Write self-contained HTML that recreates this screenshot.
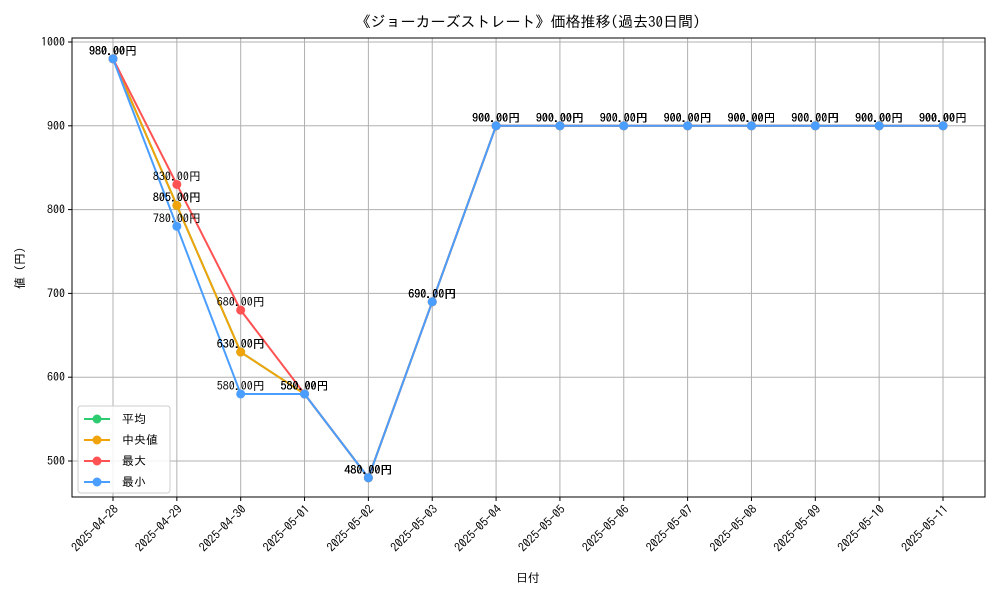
<!DOCTYPE html>
<html><head><meta charset="utf-8"><style>
body{margin:0;background:#fff;}
svg{font-family:"IPAGothic","Noto Sans CJK JP",sans-serif;}
</style></head><body>
<svg id="chart" width="1000" height="600" xmlns="http://www.w3.org/2000/svg">
<rect width="1000" height="600" fill="#fff"/>
<text x="528" y="27" text-anchor="middle" font-size="15" fill="#000">《ジョーカーズストレート》価格推移(過去30日間)</text>
<g id="grid"></g>
<g id="series"></g>
<g id="labels"></g>
<rect x="72" y="38" width="913" height="459" fill="none" stroke="#000" stroke-width="1"/>
<g id="axes"></g>
<text x="528" y="582" text-anchor="middle" font-size="12">日付</text>
<text x="0" y="0" transform="translate(24,268) rotate(-90)" text-anchor="middle" font-size="12">値 (円)</text>
<g id="legend"></g>
</svg>
<script>
const dates=["2025-04-28","2025-04-29","2025-04-30","2025-05-01","2025-05-02","2025-05-03","2025-05-04","2025-05-05","2025-05-06","2025-05-07","2025-05-08","2025-05-09","2025-05-10","2025-05-11"];
const avgValues=[980,805,630,580,480,690,900,900,900,900,900,900,900,900];
const medianValues=[980,805,630,580,480,690,900,900,900,900,900,900,900,900];
const maxValues=[980,830,680,580,480,690,900,900,900,900,900,900,900,900];
const minValues=[980,780,580,580,480,690,900,900,900,900,900,900,900,900];
const yTicks=[500,600,700,800,900,1000];
const seriesNames=["平均","中央値","最大","最小"];
const NS="http://www.w3.org/2000/svg";
const xS=i=>113+i*(943-113)/(dates.length-1);
const yS=v=>42+(1000-v)*0.838;
function mk(tag,attrs,parent){const e=document.createElementNS(NS,tag);for(const k in attrs)e.setAttribute(k,attrs[k]);parent.appendChild(e);return e;}
const grid=document.getElementById('grid'),axes=document.getElementById('axes');
yTicks.forEach(t=>{
 const l=mk('line',{x1:72,x2:985,y1:yS(t),y2:yS(t),stroke:'#b0b0b0','stroke-width':1},grid);
 
 
 mk('line',{x1:68,x2:72,y1:yS(t),y2:yS(t),stroke:'#000'},axes);
 const tx=mk('text',{x:65,y:yS(t)+4,'text-anchor':'end','font-size':12},axes);tx.textContent=t;
 
 
});
dates.forEach((d,i)=>{
 const l=mk('line',{x1:xS(i),x2:xS(i),y1:38,y2:497,stroke:'#b0b0b0','stroke-width':1},grid);
 
 
 mk('line',{x1:xS(i),x2:xS(i),y1:497,y2:501,stroke:'#000'},axes);
 const tx=mk('text',{x:0,y:0,'text-anchor':'end','font-size':12,transform:`translate(${xS(i)+6},${510}) rotate(-45)`},axes);tx.textContent=d;
 
 
});
const series=[[avgValues,'#2ecc71','avg'],[medianValues,'#f0a30a','median'],[maxValues,'#ff5252','max'],[minValues,'#4a9eff','min']];
const sg=document.getElementById('series'),lg=document.getElementById('labels');
series.forEach(([vals,col,nm])=>{
 const p=mk('polyline',{points:vals.map((v,i)=>xS(i)+','+yS(v)).join(' '),fill:'none',stroke:col,'stroke-width':2},sg);
 
 
 vals.forEach((v,i)=>{
  const c=mk('circle',{cx:xS(i),cy:yS(v),r:4.5,fill:col},sg);
  
  
  const t=mk('text',{x:xS(i),y:yS(v)-4,'text-anchor':'middle','font-size':12,fill:'#000'},lg);
  t.textContent=v.toFixed(2)+'円';
  
  
 });
});
const leg=document.getElementById('legend');
const box=mk('rect',{x:78,y:406,width:92,height:87,fill:'#fff','fill-opacity':0.85,stroke:'#ccc',rx:3},leg);


series.forEach(([v,col,nm],k)=>{
 const y=419+k*21;
 mk('line',{x1:84,x2:110,y1:y,y2:y,stroke:col,'stroke-width':2},leg);
 mk('circle',{cx:97,cy:y,r:4.5,fill:col},leg);
 const t=mk('text',{x:122,y:y+4,'font-size':12},leg);t.textContent=seriesNames[k];
 
 
});
</script>
</body></html>
